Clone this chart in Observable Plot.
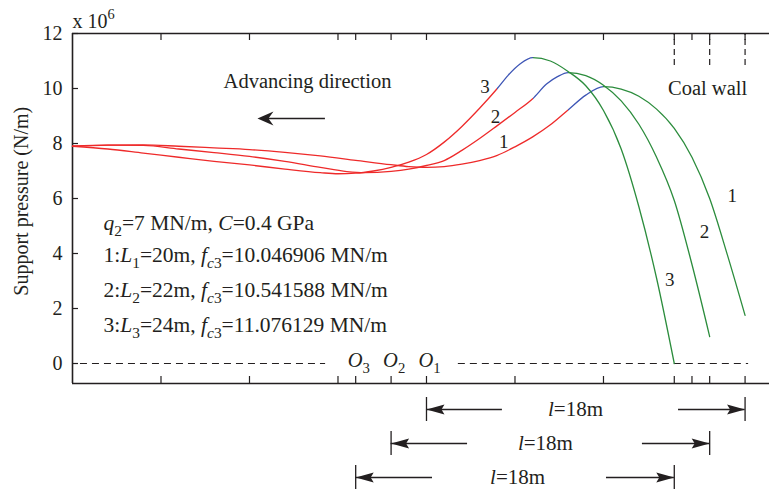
<!DOCTYPE html>
<html><head><meta charset="utf-8">
<script src="https://cdn.jsdelivr.net/npm/d3@7"></script>
<script src="https://cdn.jsdelivr.net/npm/@observablehq/plot@0.6"></script>
<style>body{margin:0;background:#fff;}</style>
</head><body><div id="chart"></div>
<script>
// ---------- data (x in m relative to O1, y in 10^6 N/m) ----------
const curve1X = [-20,-18,-16,-14,-12,-10,-8,-6,-4,-2,-1,0,1,2,3,4,5,6,7,8,9,10,11,12,13,14,15,16,17,18];
const curve1Y = [7.9,7.94,7.95,7.9,7.84,7.78,7.68,7.55,7.39,7.23,7.16,7.13,7.16,7.25,7.38,7.57,7.88,8.24,8.68,9.22,9.76,10.07,9.98,9.72,9.25,8.55,7.5,6.0,3.95,1.75];
const curve2X = [-20,-18,-16,-14,-12,-10,-8,-6,-4.5,-3.5,-2,-1,0,1,2,3,4,5,6,6.8,7.4,8,9,10,11,12,13,14,15,16];
const curve2Y = [7.9,7.94,7.93,7.8,7.67,7.53,7.35,7.13,6.98,6.94,6.99,7.07,7.2,7.38,7.75,8.18,8.65,9.13,9.63,10.17,10.43,10.58,10.47,10.12,9.55,8.7,7.5,5.93,3.6,0.98];
const curve3X = [-20,-18,-16,-14,-12,-10,-8,-6,-5,-4,-3,-2,-1,0,1,2,3,4,4.6,5.3,6,7,8,9,10,11,12,13,14];
const curve3Y = [7.9,7.8,7.65,7.5,7.35,7.22,7.07,6.94,6.9,6.92,7.0,7.13,7.32,7.6,8.05,8.62,9.28,10.0,10.47,10.9,11.12,11.0,10.62,10.1,9.2,7.8,5.7,3.1,0];
// colour changes along each curve (red -> blue -> green)
const blueStartX = [8,6,4];
const greenStartX = [10,8,6];

const yTickValues = [0,2,4,6,8,10,12];
const xTickValues = [-15,-10,-5,-4,-2,0,5,10,14,15,16,18];
const coalWallX = [14,16,18];
const coalWallBottom = 10.84;
const zeroDashStart = [-19.55, 1.8];
const zeroDashEnd = [-5.7, 18.2];

const oLabels = ["*O*_{3}","*O*_{2}","*O*_{1}"];
const oLabelX = [-4,-2,0];
const oLabelY = 0.1;

const curveLabels = ["3","2","1","1","2","3"];
const curveLabelX = [3.3,3.9,4.37,17.27,15.71,13.75];
const curveLabelY = [10.05,8.98,8.05,6.11,4.77,3.04];

const noteLines = ["*q*_{2}=7 MN/m, *C*=0.4 GPa",
  "1:*L*_{1}=20m, *f*_{*c*3}=10.046906 MN/m",
  "2:*L*_{2}=22m, *f*_{*c*3}=10.541588 MN/m",
  "3:*L*_{3}=24m, *f*_{*c*3}=11.076129 MN/m"];
const noteX = -18.25;
const noteY = [5.1,3.95,2.67,1.4];

const advText = "Advancing direction";
const advTextPos = [-6.72, 10.27];
const advArrowFrom = -5.71, advArrowTo = -9.55, advArrowY = 8.91;

const coalText = "Coal wall";
const coalTextPos = [15.88, 10.02];

const dimStart = [0,-2,-4];
const dimEnd = [18,16,14];
const dimY = [-1.673,-2.909,-4.145];
const dimLeftEnd = [4.29,2.32,0.34];
const dimRightStart = [14.24,12.2,10.17];
const dimTextX = [8.42,6.72,5.15];
const dimText = "*l*=18m";

// ---------- layout ----------
const W=769, H=493, mL=72, mR=0, mT=33, mB=110;
const xMin=-20, xMax=19.38, yMin=-0.727, yMax=12;
const pxX=(W-mL-mR)/(xMax-xMin), pxY=(H-mT-mB)/(yMax-yMin);
const toPx = x => mL + (x - xMin) * pxX;
const FONT="'Liberation Serif','Times New Roman',serif";
const INK="#231f20";
const RED="#ee2a2a", BLUE="#3d55b5", GREEN="#2b8c3c";

const curvesX=[curve1X,curve2X,curve3X], curvesY=[curve1Y,curve2Y,curve3Y];
const curveRows = curvesX.flatMap((xs,c)=>xs.map((x,i)=>({curve:c, x, y:curvesY[c][i], grad:`url(#curveGrad${c})`})));

const headLeft = {draw(ctx){ctx.moveTo(0,0);ctx.lineTo(18,-5);ctx.lineTo(15,0);ctx.lineTo(18,5);ctx.closePath();}};
const headRight = {draw(ctx){ctx.moveTo(0,0);ctx.lineTo(-18,-5);ctx.lineTo(-15,0);ctx.lineTo(-18,5);ctx.closePath();}};
const advHead = {draw(ctx){ctx.moveTo(0,0);ctx.lineTo(16,-7);ctx.lineTo(11,0);ctx.lineTo(16,7);ctx.closePath();}};

const dimIdx = dimStart.map((_,i)=>i);
const bars = dimIdx.flatMap(i=>[{x:dimStart[i],y:dimY[i]},{x:dimEnd[i],y:dimY[i]}]);

const svg = Plot.plot({
  width:W, height:H, marginLeft:mL, marginRight:mR, marginTop:mT, marginBottom:mB,
  style:{fontFamily:FONT, background:"#fff", color:INK},
  x:{domain:[xMin,xMax], axis:null},
  y:{domain:[yMin,yMax], axis:null},
  color:{type:"identity"},
  marks:[
    Plot.ruleX([xMin],{y1:yMin,y2:yMax,stroke:INK,strokeWidth:1.6}),
    Plot.ruleY([yMin,yMax],{x1:xMin,x2:xMax,stroke:INK,strokeWidth:1.6}),
    Plot.ruleX(xTickValues,{y1:yMin,y2:yMin+7/pxY,stroke:INK,strokeWidth:1.2}),
    Plot.ruleX(xTickValues,{y1:yMax-7/pxY,y2:yMax,stroke:INK,strokeWidth:1.2}),
    Plot.ruleY(yTickValues,{x1:xMin,x2:xMin+6/pxX,stroke:INK,strokeWidth:1.2}),
    Plot.text(yTickValues,{x:xMin,y:d=>d,text:d=>String(d),textAnchor:"end",dx:-10,fontSize:20,fill:INK}),
    Plot.text(["Support pressure (N/m)"],{x:xMin,y:5.9,dx:-51,rotate:-90,fontSize:20,fill:INK}),
    Plot.text(["x 10^{6}"],{x:xMin,y:12.45,textAnchor:"start",fontSize:20,fill:INK}),
    Plot.ruleY([0,1],{x1:i=>zeroDashStart[i],x2:i=>zeroDashEnd[i],y:()=>0,stroke:INK,strokeWidth:1,strokeDasharray:"7,5"}),
    Plot.ruleX(coalWallX,{y1:coalWallBottom,y2:yMax,stroke:INK,strokeWidth:1.2,strokeDasharray:"6,4"}),
    Plot.line(curveRows,{x:"x",y:"y",z:"curve",stroke:"grad",strokeWidth:1.3,curve:"monotone-x"}),
    Plot.text(curveLabels,{x:(d,i)=>curveLabelX[i],y:(d,i)=>curveLabelY[i],text:d=>d,fontSize:19,fill:INK}),
    Plot.text(noteLines,{x:noteX,y:(d,i)=>noteY[i],text:d=>d,textAnchor:"start",fontSize:21.5,fill:INK}),
    Plot.text(oLabels,{x:(d,i)=>oLabelX[i],y:oLabelY,text:d=>d,textAnchor:"start",dx:-8,fontSize:20.5,fill:INK}),
    Plot.text([advText],{x:advTextPos[0],y:advTextPos[1],fontSize:20.5,fill:INK}),
    Plot.text([coalText],{x:coalTextPos[0],y:coalTextPos[1],fontSize:20.5,fill:INK}),
    Plot.ruleY([advArrowY],{x1:advArrowFrom,x2:advArrowTo+10/pxX,stroke:INK,strokeWidth:1.5}),
    Plot.dot([0],{x:advArrowTo,y:advArrowY,symbol:advHead,fill:INK,stroke:"none"}),
    Plot.ruleX(bars,{x:"x",y1:d=>d.y-12/pxY,y2:d=>d.y+12/pxY,stroke:INK,strokeWidth:1.3}),
    Plot.ruleY(dimIdx,{y:i=>dimY[i],x1:i=>dimStart[i],x2:i=>dimLeftEnd[i],stroke:INK,strokeWidth:1.3}),
    Plot.ruleY(dimIdx,{y:i=>dimY[i],x1:i=>dimRightStart[i],x2:i=>dimEnd[i],stroke:INK,strokeWidth:1.3}),
    Plot.dot(dimIdx,{x:i=>dimStart[i],y:i=>dimY[i],symbol:headLeft,fill:INK,stroke:"none"}),
    Plot.dot(dimIdx,{x:i=>dimEnd[i],y:i=>dimY[i],symbol:headRight,fill:INK,stroke:"none"}),
    Plot.text(dimIdx,{x:i=>dimTextX[i],y:i=>dimY[i],text:()=>dimText,fontSize:21,fill:INK})
  ]
});

// gradients that switch colour at the blue / green start positions
const defs = d3.select(svg).insert("defs",":first-child");
curvesX.forEach((xs,c)=>{
  const x0=toPx(xs[0]), x1=toPx(xs[xs.length-1]);
  const o = x => (toPx(x)-x0)/(x1-x0);
  const g = defs.append("linearGradient").attr("id",`curveGrad${c}`).attr("gradientUnits","userSpaceOnUse")
    .attr("x1",x0).attr("x2",x1).attr("y1",0).attr("y2",0);
  [[0,RED],[o(blueStartX[c]),RED],[o(blueStartX[c]),BLUE],[o(greenStartX[c]),BLUE],[o(greenStartX[c]),GREEN],[1,GREEN]]
    .forEach(([off,col])=>g.append("stop").attr("offset",off).attr("stop-color",col));
});

// rich text: *italic*, _{sub}, ^{sup}
function richify(root){
  d3.select(root).selectAll("text").each(function(){
    const el=this, t=el.textContent;
    if(!/[*_^]/.test(t)) return;
    while(el.firstChild) el.removeChild(el.firstChild);
    let italic=false, mode=null, buf="";
    const runs=[];
    const flush=()=>{ if(buf){runs.push({text:buf,italic,mode}); buf="";} };
    for(let i=0;i<t.length;i++){
      const ch=t[i];
      if(ch==="*"){flush(); italic=!italic;}
      else if((ch==="_"||ch==="^")&&t[i+1]==="{"){flush(); mode=ch==="_"?"sub":"sup"; i++;}
      else if(ch==="}"&&mode){flush(); mode=null;}
      else buf+=ch;
    }
    flush();
    let cur=0;
    for(const r of runs){
      const ts=document.createElementNS("http://www.w3.org/2000/svg","tspan");
      ts.textContent=r.text;
      if(r.italic) ts.setAttribute("font-style","italic");
      const target = r.mode==="sub"?6:r.mode==="sup"?-9:0;
      if(r.mode) ts.setAttribute("font-size","72%");
      if(target!==cur){ts.setAttribute("dy",String(target-cur)); cur=target;}
      el.appendChild(ts);
    }
  });
}
richify(svg);
document.getElementById("chart").appendChild(svg);
</script>
</body></html>
